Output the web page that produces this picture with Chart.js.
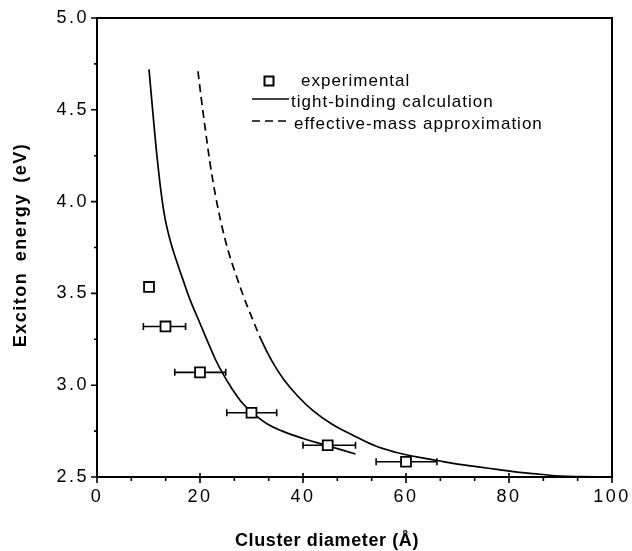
<!DOCTYPE html>
<html>
<head>
<meta charset="utf-8">
<script src="https://cdn.jsdelivr.net/npm/chart.js@4.4.1/dist/chart.umd.min.js"></script>
<style>
  html, body { margin: 0; padding: 0; background: #fff; }
  #wrap { width: 632px; height: 551px; }
</style>
</head>
<body>
<div id="wrap"><canvas id="excitonChart"></canvas></div>
<script>
// experimental points, with horizontal error bars (cluster size spread)
const expDiameter = [10.1, 13.3, 20.0, 30.0, 44.8, 60.0]
const expEnergy = [3.535, 3.32, 3.07, 2.85, 2.673, 2.583]
const expDiameterLow = [null, 9.0, 15.1, 25.2, 40.0, 54.2]
const expDiameterHigh = [null, 17.2, 25.0, 34.9, 50.2, 66.0]

// tight-binding calculation (solid)
const tbDiameter = [10.1, 10.8, 11.6, 12.4, 13.2, 14.2, 15.4, 16.5, 18.0, 19.5, 21.3, 23.0, 24.5, 26.0, 28.0, 30.0, 33.0, 36.0, 40.0, 44.8, 50.2]
const tbEnergy = [4.72, 4.50, 4.26, 4.06, 3.91, 3.79, 3.68, 3.59, 3.47, 3.37, 3.25, 3.14, 3.06, 2.99, 2.91, 2.855, 2.79, 2.75, 2.71, 2.67, 2.625]

// effective-mass approximation (dashed at the top, looks solid further down)
const emDiameter = [19.6, 20.3, 21.1, 22.0, 23.1, 24.3, 25.6, 27.0, 28.5, 30.2, 32.0, 34.0, 36.3, 39.0, 42.0, 45.5, 49.5, 54.0, 58.0, 62.0, 66.0, 70.0, 74.0, 78.0, 82.0, 86.0, 90.0, 94.0, 100.0]
const emEnergy = [4.71, 4.55, 4.38, 4.20, 4.02, 3.86, 3.72, 3.60, 3.48, 3.36, 3.24, 3.13, 3.03, 2.94, 2.86, 2.79, 2.73, 2.67, 2.635, 2.61, 2.59, 2.57, 2.555, 2.54, 2.525, 2.515, 2.505, 2.502, 2.50]
const emDashedUntil = 32

const xTicks = [0, 20, 40, 60, 80, 100]
const xMinorTicks = [6.67, 13.33, 26.67, 33.33, 46.67, 53.33, 66.67, 73.33, 86.67, 93.33]
const yTicks = [2.5, 3.0, 3.5, 4.0, 4.5, 5.0]
const yMinorTicks = [2.75, 3.25, 3.75, 4.25, 4.75]

const xTitle = 'Cluster diameter (Å)'
const yTitle = 'Exciton energy (eV)'
const legendLabels = ['experimental', 'tight-binding calculation', 'effective-mass approximation']

const FONT = '"Liberation Sans", Arial, Helvetica, sans-serif'
const DASH = [8, 5]

function toPoints(xs, ys) {
    return xs.map((x, i) => ({ x: x, y: ys[i] }))
}

const figurePlugin = {
    id: 'figure',
    beforeDraw(chart) {
        // tick labels in the original are a bit spaced out
        chart.ctx.letterSpacing = '2.5px'
    },
    beforeDatasetsDraw(chart) {
        const ctx = chart.ctx
        const xs = chart.scales.x
        const ys = chart.scales.y
        ctx.save()
        ctx.strokeStyle = '#000'
        ctx.lineWidth = 1.6
        expDiameter.forEach((d, i) => {
            if (expDiameterLow[i] === null) return
            const x1 = xs.getPixelForValue(expDiameterLow[i])
            const x2 = xs.getPixelForValue(expDiameterHigh[i])
            const y = ys.getPixelForValue(expEnergy[i])
            ctx.beginPath()
            ctx.moveTo(x1, y)
            ctx.lineTo(x2, y)
            ctx.moveTo(x1, y - 3.5)
            ctx.lineTo(x1, y + 3.5)
            ctx.moveTo(x2, y - 3.5)
            ctx.lineTo(x2, y + 3.5)
            ctx.stroke()
        })
        ctx.restore()
    },
    afterDraw(chart) {
        const ctx = chart.ctx
        const area = chart.chartArea
        const xs = chart.scales.x
        const ys = chart.scales.y
        ctx.save()
        ctx.letterSpacing = '0px'
        ctx.strokeStyle = '#000'
        ctx.fillStyle = '#000'

        // frame
        ctx.lineWidth = 2
        ctx.strokeRect(area.left, area.top, area.right - area.left, area.bottom - area.top)

        // tick marks
        ctx.lineWidth = 1.6
        ctx.beginPath()
        xTicks.forEach(v => {
            const px = xs.getPixelForValue(v)
            ctx.moveTo(px, area.bottom - 4)
            ctx.lineTo(px, area.bottom + 6)
        })
        xMinorTicks.forEach(v => {
            const px = xs.getPixelForValue(v)
            ctx.moveTo(px, area.bottom)
            ctx.lineTo(px, area.bottom + 4)
        })
        yTicks.forEach(v => {
            const py = ys.getPixelForValue(v)
            ctx.moveTo(area.left - 6, py)
            ctx.lineTo(area.left, py)
        })
        yMinorTicks.forEach(v => {
            const py = ys.getPixelForValue(v)
            ctx.moveTo(area.left - 3, py)
            ctx.lineTo(area.left, py)
        })
        ctx.stroke()

        // axis titles
        ctx.font = 'bold 18px ' + FONT
        ctx.textBaseline = 'alphabetic'
        ctx.textAlign = 'left'
        ctx.letterSpacing = '0.6px'
        ctx.fillText(xTitle, 235, 546)

        ctx.save()
        ctx.translate(26, 245)
        ctx.rotate(-Math.PI / 2)
        ctx.textAlign = 'center'
        ctx.letterSpacing = '1.5px'
        ctx.wordSpacing = '4px'
        ctx.fillText(yTitle, 0, 0)
        ctx.restore()

        // legend
        ctx.font = '17px ' + FONT
        ctx.letterSpacing = '1px'
        ctx.textBaseline = 'middle'
        ctx.textAlign = 'left'

        ctx.lineWidth = 2
        ctx.fillStyle = '#fff'
        ctx.fillRect(264.5, 76.5, 9, 9)
        ctx.strokeRect(264.5, 76.5, 9, 9)
        ctx.fillStyle = '#000'
        ctx.fillText(legendLabels[0], 301, 81)

        ctx.lineWidth = 1.7
        ctx.beginPath()
        ctx.moveTo(252, 99)
        ctx.lineTo(289, 99)
        ctx.stroke()
        ctx.fillText(legendLabels[1], 291, 102.5)

        ctx.setLineDash(DASH)
        ctx.beginPath()
        ctx.moveTo(252, 121)
        ctx.lineTo(290, 121)
        ctx.stroke()
        ctx.setLineDash([])
        ctx.fillText(legendLabels[2], 294, 124)

        ctx.restore()
    }
}

Chart.defaults.font.family = FONT
Chart.defaults.color = '#000'

new Chart(document.getElementById('excitonChart'), {
    type: 'scatter',
    data: {
        datasets: [
            {
                label: legendLabels[0],
                data: toPoints(expDiameter, expEnergy),
                pointStyle: 'rect',
                pointRadius: 7,
                pointBorderWidth: 1.8,
                pointBorderColor: '#000',
                pointBackgroundColor: '#fff',
                showLine: false
            },
            {
                label: legendLabels[1],
                data: toPoints(tbDiameter, tbEnergy),
                showLine: true,
                borderColor: '#000',
                borderWidth: 1.7,
                pointRadius: 0,
                tension: 0.4
            },
            {
                label: legendLabels[2],
                data: toPoints(emDiameter, emEnergy),
                showLine: true,
                borderColor: '#000',
                borderWidth: 1.7,
                pointRadius: 0,
                tension: 0.4,
                segment: {
                    borderDash: ctx => ctx.p1.parsed.x <= emDashedUntil ? DASH : []
                }
            }
        ]
    },
    options: {
        responsive: true,
        maintainAspectRatio: false,
        animation: false,
        devicePixelRatio: 1,
        layout: { padding: { top: 18, right: 20, left: 0, bottom: 0 } },
        plugins: {
            legend: { display: false },
            tooltip: { enabled: false }
        },
        scales: {
            x: {
                type: 'linear',
                min: 0,
                max: 100,
                afterBuildTicks: scale => { scale.ticks = xTicks.map(v => ({ value: v })) },
                afterFit: scale => {
                    scale.height = 74
                    scale.paddingLeft = 0
                    scale.paddingRight = 0
                },
                ticks: {
                    font: { size: 18 },
                    color: '#000',
                    padding: 9,
                    maxRotation: 0,
                    autoSkip: false,
                    callback: v => String(v)
                },
                grid: { display: false, drawTicks: false },
                border: { display: false }
            },
            y: {
                type: 'linear',
                min: 2.5,
                max: 5.0,
                afterBuildTicks: scale => { scale.ticks = yTicks.map(v => ({ value: v })) },
                afterFit: scale => {
                    scale.width = 97
                    scale.paddingTop = 0
                    scale.paddingBottom = 0
                },
                ticks: {
                    font: { size: 18 },
                    color: '#000',
                    padding: 8,
                    autoSkip: false,
                    callback: v => v.toFixed(1)
                },
                grid: { display: false, drawTicks: false },
                border: { display: false }
            }
        }
    },
    plugins: [figurePlugin]
})
</script>
</body>
</html>
